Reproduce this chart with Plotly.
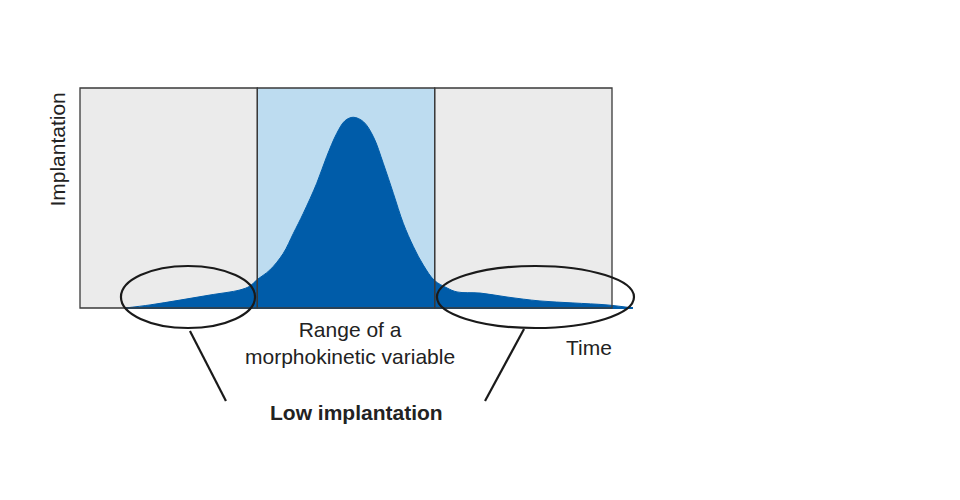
import plotly.graph_objects as go

# Data (time in units of region width, implantation 0..1)
time_vals = [0.254, 0.395, 0.564, 0.733, 0.902, 0.959, 0.996, 1.071, 1.146, 1.203, 1.259,
             1.335, 1.391, 1.448, 1.494, 1.541, 1.598, 1.654, 1.710, 1.767, 1.823,
             1.880, 1.936, 1.998, 2.070, 2.126, 2.256, 2.408, 2.594, 2.780, 2.972, 3.118]
impl_vals = [0.0, 0.014, 0.036, 0.059, 0.082, 0.10, 0.127, 0.173, 0.248, 0.339, 0.430,
             0.567, 0.688, 0.794, 0.851, 0.867, 0.847, 0.779, 0.658, 0.521, 0.385,
             0.279, 0.195, 0.126, 0.091, 0.073, 0.068, 0.05, 0.032, 0.023, 0.014, 0.0]
region_edges = [0, 1, 2, 3]
region_colors = ["#ebebeb", "#bddcf0", "#ebebeb"]
low_ellipses = [(0.231, 0.987), (2.013, 3.124)]

DARK = "#005ca9"
FONT = "Liberation Sans, Arial, sans-serif"
FS = 21

fig = go.Figure()

shapes = []
for i in range(3):
    shapes.append(dict(type="rect", xref="x", yref="y", x0=region_edges[i], x1=region_edges[i + 1],
                       y0=0, y1=1, fillcolor=region_colors[i], line=dict(width=0), layer="below"))

fig.add_trace(go.Scatter(x=time_vals, y=impl_vals, mode="lines",
                         line=dict(color=DARK, width=1, shape="spline", smoothing=1.0),
                         fill="tozeroy", fillcolor=DARK, hoverinfo="skip", showlegend=False))
# baseline
fig.add_trace(go.Scatter(x=[time_vals[0], time_vals[-1]], y=[0, 0], mode="lines",
                         line=dict(color=DARK, width=2), hoverinfo="skip", showlegend=False))

for i in range(3):
    shapes.append(dict(type="rect", xref="x", yref="y", x0=region_edges[i], x1=region_edges[i + 1],
                       y0=0, y1=1, line=dict(color="#3a3a3a", width=1.3),
                       fillcolor="rgba(0,0,0,0)", layer="above"))

for x0, x1 in low_ellipses:
    shapes.append(dict(type="circle", xref="x", yref="y", x0=x0, x1=x1, y0=-0.091, y1=0.191,
                       line=dict(color="#1a1a1a", width=2.2), layer="above"))

# leader lines
shapes.append(dict(type="line", xref="x", yref="y", x0=0.620, y0=-0.105, x1=0.823, y1=-0.423,
                   line=dict(color="#1a1a1a", width=2.2)))
shapes.append(dict(type="line", xref="x", yref="y", x0=2.504, y0=-0.095, x1=2.284, y1=-0.423,
                   line=dict(color="#1a1a1a", width=2.2)))

fig.update_layout(shapes=shapes)

ann = [
    dict(x=1.523, y=-0.159, text="Range of a<br>morphokinetic variable", showarrow=False,
         font=dict(family=FONT, size=FS, color="#222"), yanchor="middle", align="center"),
    dict(x=2.87, y=-0.18, text="Time", showarrow=False, font=dict(family=FONT, size=FS, color="#222")),
    dict(x=1.562, y=-0.473, text="<b>Low implantation</b>", showarrow=False,
         font=dict(family=FONT, size=FS, color="#222")),
    dict(x=-0.124, y=0.72, text="Implantation", showarrow=False, textangle=-90,
         font=dict(family=FONT, size=FS, color="#222")),
]
fig.update_layout(annotations=ann)

# page body has an 8px margin; compensate so marks land where the reference has them
fig.update_xaxes(range=[-72 / 177.333, 888 / 177.333], visible=False, fixedrange=True)
fig.update_yaxes(range=[-200 / 220, 300 / 220], visible=False, fixedrange=True)
fig.update_layout(width=960, height=500, margin=dict(l=0, r=0, t=0, b=0),
                  plot_bgcolor="white", paper_bgcolor="white")

fig.write_html("out.html")
